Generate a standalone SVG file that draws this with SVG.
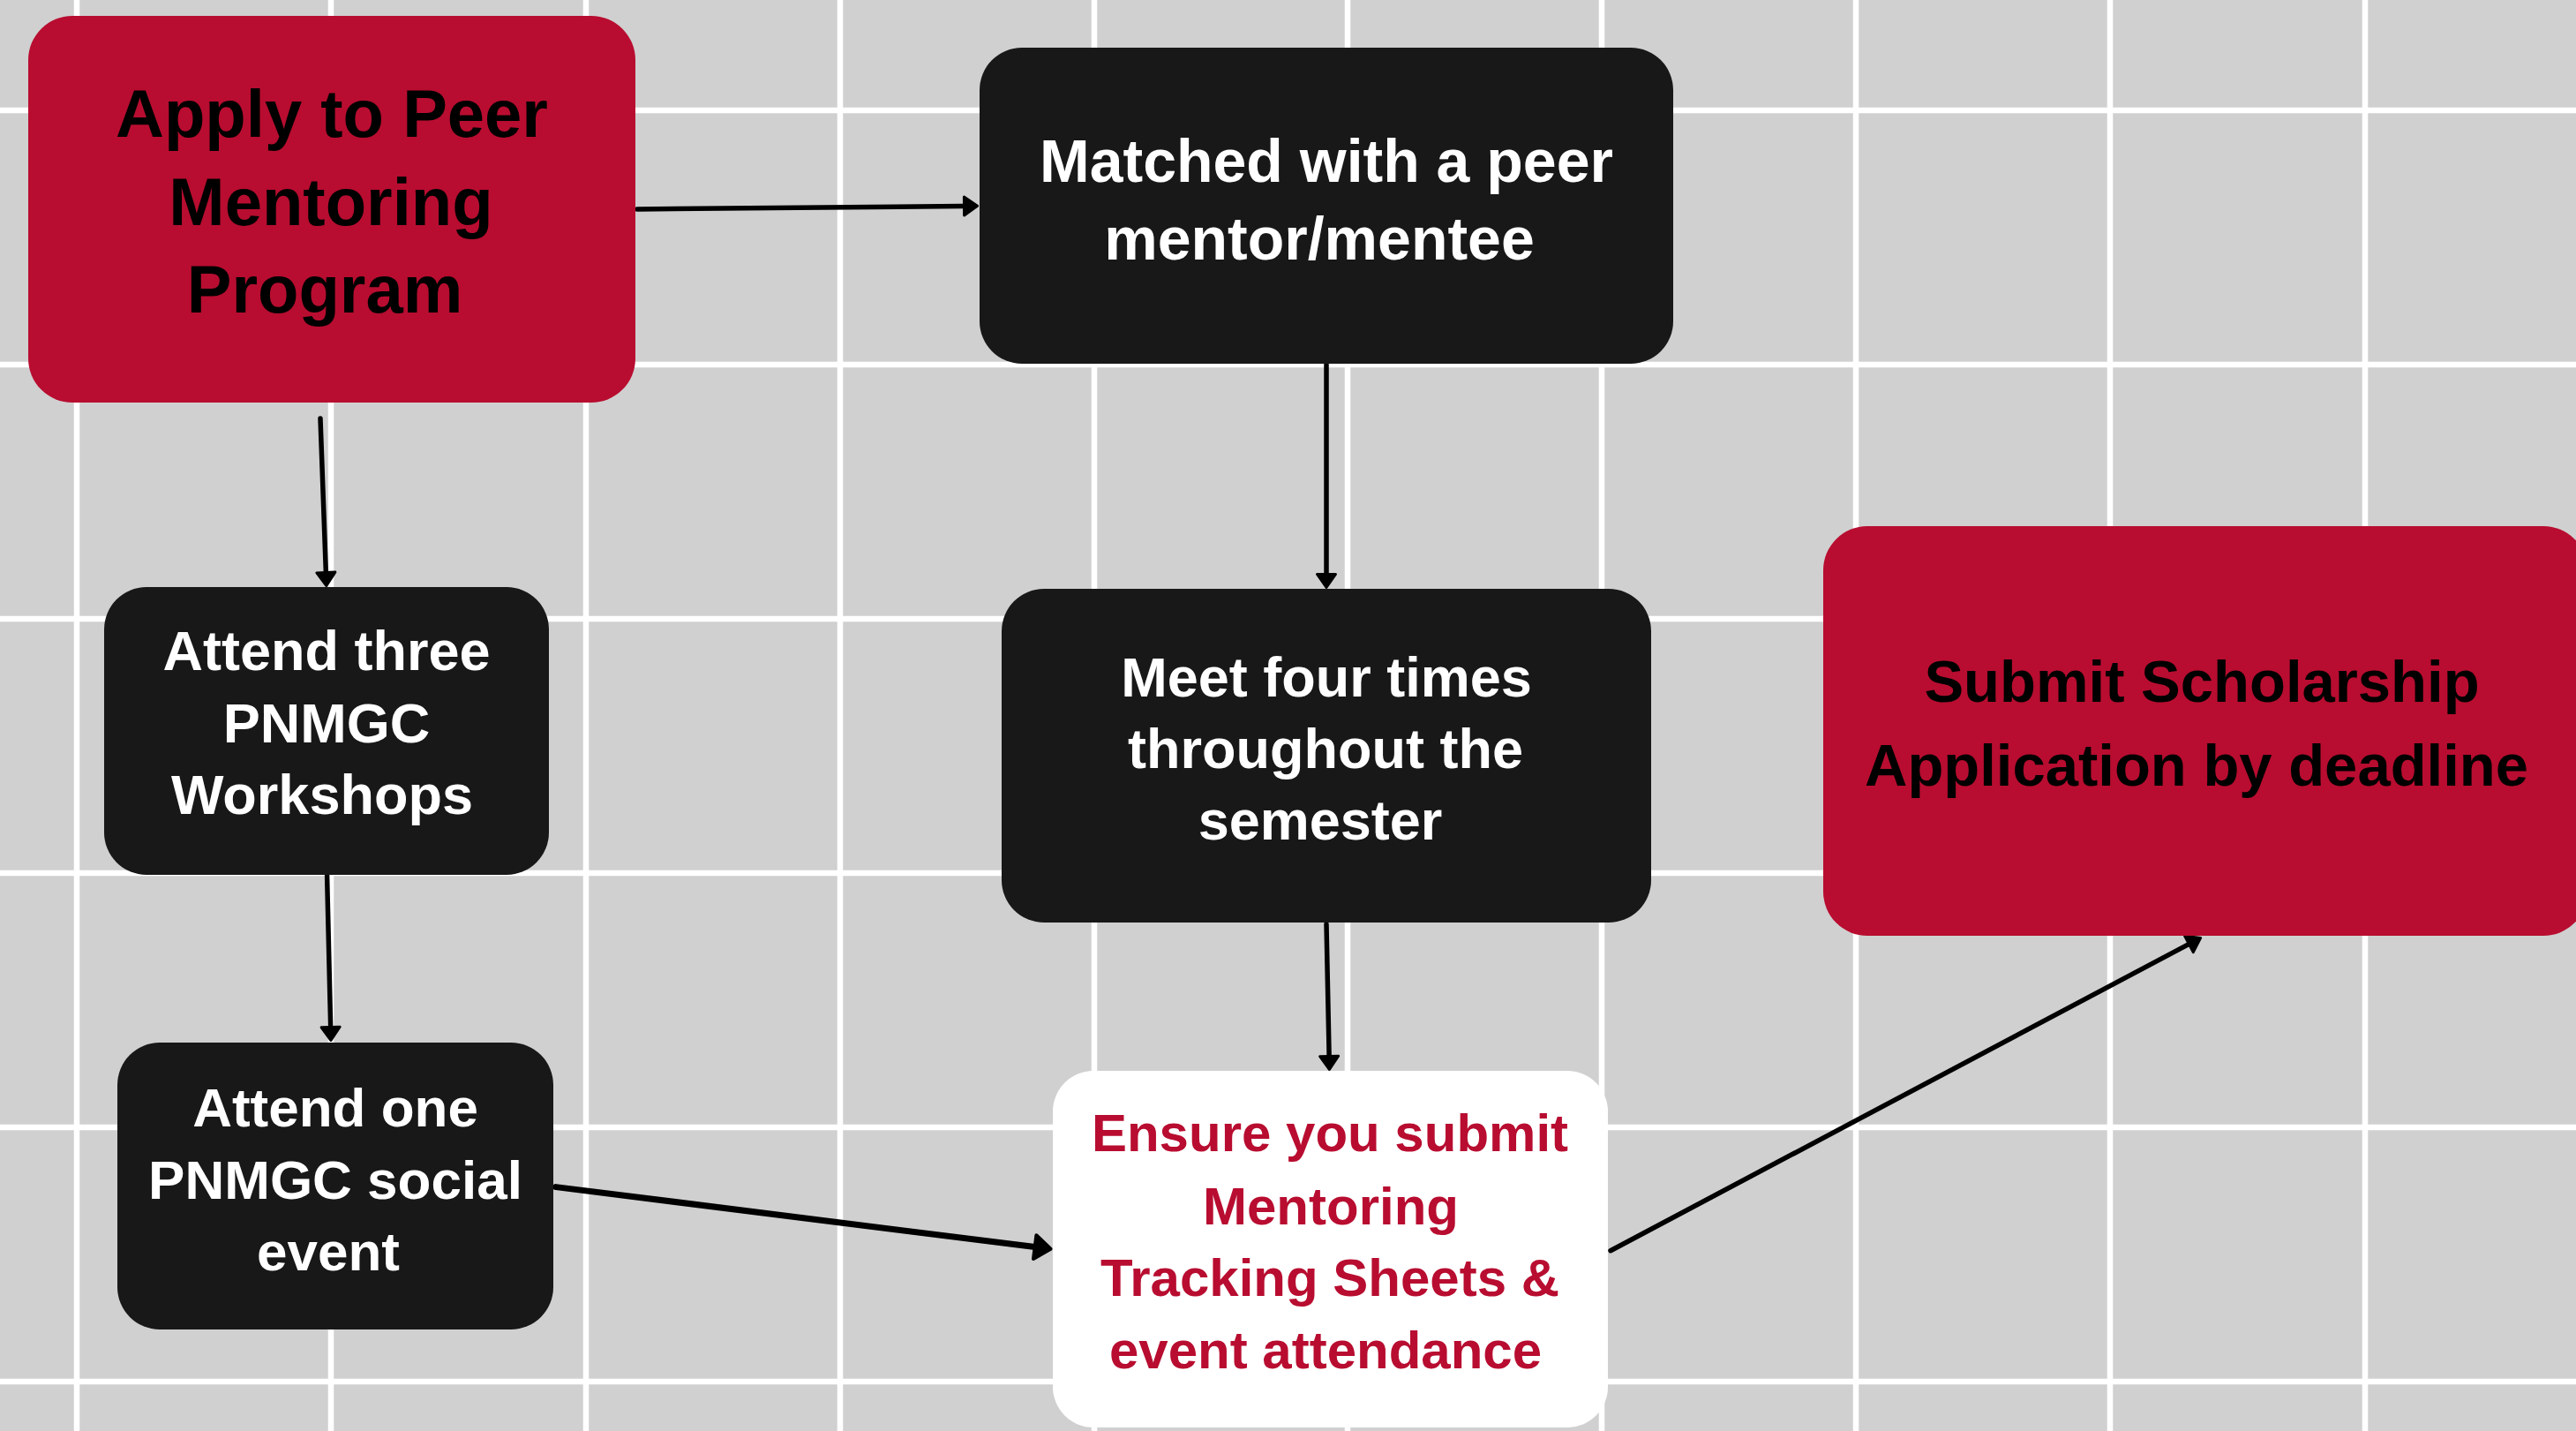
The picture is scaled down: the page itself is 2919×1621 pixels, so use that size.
<svg xmlns="http://www.w3.org/2000/svg" width="2919" height="1621" viewBox="0 0 2919 1621">
<style>
.bg{fill:#D0D0D0}
.grid line{stroke:#FFFFFF;stroke-width:6.5}
.red{fill:#B80D30}
.blk{fill:#181818}
.wht{fill:#FFFFFF}
text{font-family:"Liberation Sans",Arial,sans-serif;font-weight:700;text-anchor:middle}
.tb{fill:#000000}
.tw{fill:#FFFFFF}
.tr{fill:#B80D30}
.conn path{fill:none;stroke:#000000;stroke-linecap:round}
</style>
<defs>
<marker id="arr" markerUnits="userSpaceOnUse" viewBox="-5 -16 32 32" markerWidth="32" markerHeight="32" refX="0" refY="0" orient="auto" overflow="visible">
<path d="M1.5,-10.5 L16.5,0 L1.5,10.5 Z" fill="#000" stroke="#000" stroke-width="3" stroke-linejoin="round"/>
</marker>
<marker id="arrL" markerUnits="userSpaceOnUse" viewBox="-5 -20 40 40" markerWidth="40" markerHeight="40" refX="0" refY="0" orient="auto" overflow="visible">
<path d="M2,-13.5 L20,0 L2,13.5 Z" fill="#000" stroke="#000" stroke-width="4" stroke-linejoin="round"/>
</marker>
</defs>
<rect class="bg" x="0" y="0" width="2919" height="1621"/>
<g class="grid">
<line x1="87" y1="0" x2="87" y2="1621"/>
<line x1="375" y1="0" x2="375" y2="1621"/>
<line x1="664" y1="0" x2="664" y2="1621"/>
<line x1="952" y1="0" x2="952" y2="1621"/>
<line x1="1240" y1="0" x2="1240" y2="1621"/>
<line x1="1527" y1="0" x2="1527" y2="1621"/>
<line x1="1815" y1="0" x2="1815" y2="1621"/>
<line x1="2103" y1="0" x2="2103" y2="1621"/>
<line x1="2391" y1="0" x2="2391" y2="1621"/>
<line x1="2680" y1="0" x2="2680" y2="1621"/>
<line x1="0" y1="125" x2="2919" y2="125"/>
<line x1="0" y1="413" x2="2919" y2="413"/>
<line x1="0" y1="701" x2="2919" y2="701"/>
<line x1="0" y1="989" x2="2919" y2="989"/>
<line x1="0" y1="1277" x2="2919" y2="1277"/>
<line x1="0" y1="1565" x2="2919" y2="1565"/>
</g>
<g class="conn">
<path d="M722,237 L1091,233.5" stroke-width="5.5" marker-end="url(#arr)"/>
<path d="M363,474 L369.3,647" stroke-width="5.5" marker-end="url(#arr)"/>
<path d="M1503,413 L1503,649" stroke-width="5.5" marker-end="url(#arr)"/>
<path d="M370.6,992 L374.6,1162" stroke-width="5.5" marker-end="url(#arr)"/>
<path d="M1503,1047 L1506.1,1195" stroke-width="5.5" marker-end="url(#arr)"/>
<path d="M630,1344.6 L1170.7,1412.3" stroke-width="7" marker-end="url(#arrL)"/>
<path d="M1825,1416.7 L2479.1,1070.1" stroke-width="5.5" marker-end="url(#arr)"/>
</g>
<g id="node-apply">
<rect class="red" x="32" y="18" width="688" height="438" rx="50" ry="50"/>
<text class="tb" font-size="76"><tspan x="376" y="155">Apply to Peer</tspan><tspan x="375" y="255">Mentoring</tspan><tspan x="368" y="354">Program</tspan></text>
</g>
<g id="node-matched">
<rect class="blk" x="1110" y="54" width="786" height="358" rx="48" ry="48"/>
<text class="tw" font-size="68"><tspan x="1503" y="206">Matched with a peer</tspan><tspan x="1495" y="293.5">mentor/mentee</tspan></text>
</g>
<g id="node-workshops">
<rect class="blk" x="118" y="665" width="504" height="326" rx="48" ry="48"/>
<text class="tw" font-size="63"><tspan x="370" y="759">Attend three</tspan><tspan x="370" y="841">PNMGC</tspan><tspan x="365" y="922">Workshops</tspan></text>
</g>
<g id="node-meet">
<rect class="blk" x="1135" y="667" width="736" height="378" rx="48" ry="48"/>
<text class="tw" font-size="63"><tspan x="1503" y="789">Meet four times</tspan><tspan x="1502" y="870">throughout the</tspan><tspan x="1496" y="950.5">semester</tspan></text>
</g>
<g id="node-social">
<rect class="blk" x="133" y="1181" width="494" height="325" rx="48" ry="48"/>
<text class="tw" font-size="62"><tspan x="380" y="1276">Attend one</tspan><tspan x="380" y="1357.5">PNMGC social</tspan><tspan x="372" y="1438.5">event</tspan></text>
</g>
<g id="node-ensure">
<rect class="wht" x="1193" y="1213" width="629" height="404" rx="46" ry="46"/>
<text class="tr" font-size="60"><tspan x="1507" y="1304">Ensure you submit</tspan><tspan x="1508" y="1386.5">Mentoring</tspan><tspan x="1507" y="1468">Tracking Sheets &amp;</tspan><tspan x="1502" y="1549.5">event attendance</tspan></text>
</g>
<g id="node-submit">
<rect class="red" x="2066" y="596" width="866" height="464" rx="50" ry="50"/>
<text class="tb" font-size="67"><tspan x="2495" y="795">Submit Scholarship</tspan><tspan x="2489" y="889.5">Application by deadline</tspan></text>
</g>
</svg>
